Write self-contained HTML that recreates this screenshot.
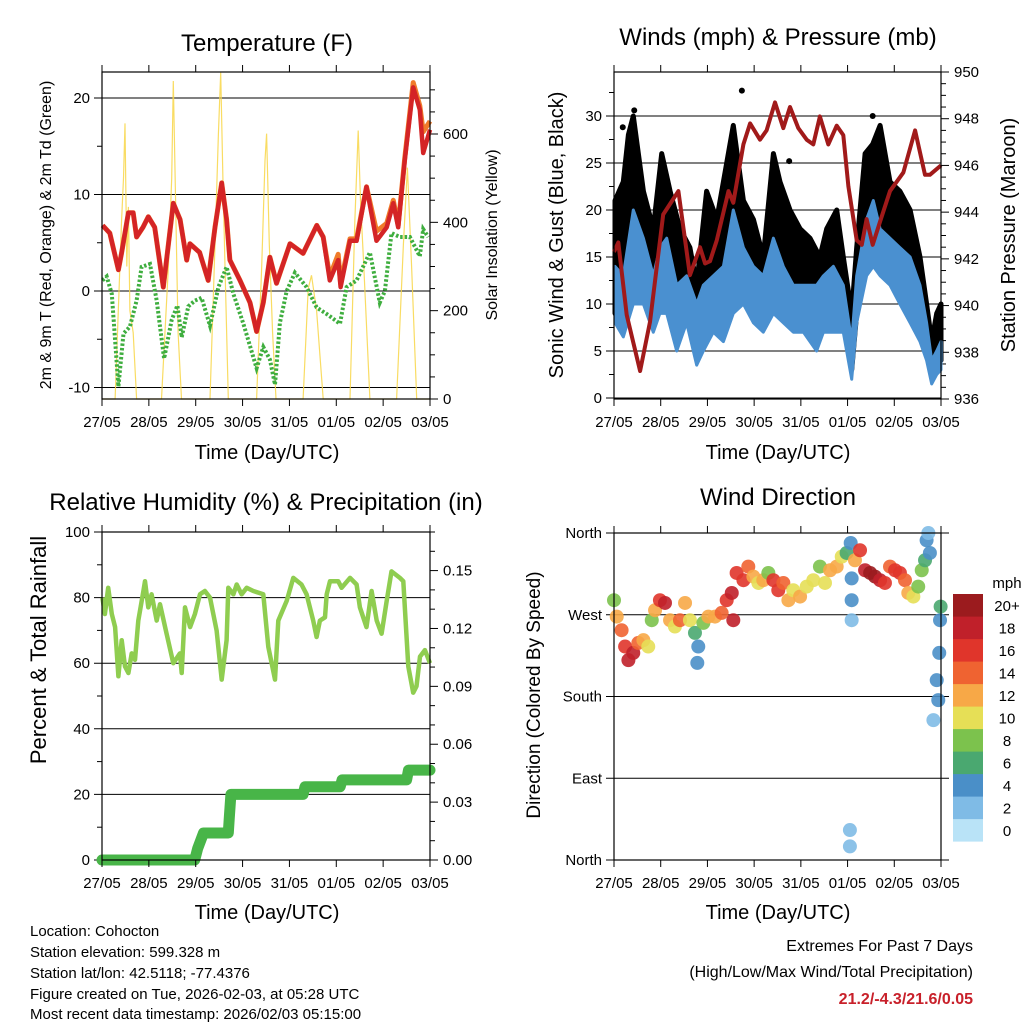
<!DOCTYPE html>
<html><head><meta charset="utf-8"><style>
html,body{margin:0;padding:0;background:#fff}
svg{display:block;font-family:"Liberation Sans",sans-serif}
</style></head><body>
<svg id="s" width="1024" height="1024" viewBox="0 0 1024 1024" xmlns="http://www.w3.org/2000/svg">
<g font-size="24" text-anchor="middle" fill="#000">
<text x="267" y="51">Temperature (F)</text>
<text x="778" y="45">Winds (mph) &amp; Pressure (mb)</text>
<text x="266" y="510">Relative Humidity (%) &amp; Precipitation (in)</text>
<text x="778" y="505">Wind Direction</text>
</g>
<g font-size="20" text-anchor="middle">
<text x="267" y="459">Time (Day/UTC)</text>
<text x="778" y="459">Time (Day/UTC)</text>
<text x="267" y="919">Time (Day/UTC)</text>
<text x="778" y="919">Time (Day/UTC)</text>
<text transform="translate(51,235) rotate(-90)" font-size="16">2m &amp; 9m T (Red, Orange) &amp; 2m Td (Green)</text>
<text transform="translate(497,235) rotate(-90)" font-size="16">Solar Insolation (Yellow)</text>
<text transform="translate(563,235) rotate(-90)">Sonic Wind &amp; Gust (Blue, Black)</text>
<text transform="translate(1015,235) rotate(-90)">Station Pressure (Maroon)</text>
<text transform="translate(46,650) rotate(-90)" font-size="22">Percent &amp; Total Rainfall</text>
<text transform="translate(540,695) rotate(-90)" font-size="19">Direction (Colored By Speed)</text>
</g>
<g font-size="15">
<text x="30" y="936">Location: Cohocton</text>
<text x="30" y="957">Station elevation: 599.328 m</text>
<text x="30" y="978">Station lat/lon: 42.5118; -77.4376</text>
<text x="30" y="999">Figure created on Tue, 2026-02-03, at 05:28 UTC</text>
<text x="30" y="1019">Most recent data timestamp: 2026/02/03 05:15:00</text>
</g>
<g font-size="16" text-anchor="end">
<text x="973" y="951">Extremes For Past 7 Days</text>
<text x="973" y="977">(High/Low/Max Wind/Total Precipitation)</text>
<text x="973" y="1004" fill="#c8202a" font-weight="bold">21.2/-4.3/21.6/0.05</text>
</g>
</svg>
<script>
// ---------- data ----------
const dayLabels = ["27/05","28/05","29/05","30/05","31/05","01/05","02/05","03/05"];
const tempHours = [0.3,4,8.4,10,13.5,16,17.7,21,23.7,27,31.4,36.5,40,43.4,45,50,54.4,57.9,61.3,63.8,65.5,70.7,75.8,79.2,82.6,86,89.4,96.3,103,110,113.3,116.7,121,122.2,127,130.4,135.5,140.6,145.8,149.2,151.7,155.1,159.4,162.8,164.5,168];
const tempRed = [6.8,6.0,2.2,3.9,8.1,8.1,5.6,6.6,7.7,6.6,0.4,9.1,7.4,3.2,4.9,4.0,1.1,6.6,11.2,7.4,3.2,1.1,-1.2,-4.2,-1.2,3.5,0.8,4.9,3.9,6.8,5.6,1.1,3.2,0.4,5.2,5.2,10.8,5.2,6.6,9.1,6.6,13.6,21.1,18.8,14.3,16.7];
const tempOrange = [6.8,6.0,2.2,3.9,8.1,8.1,5.6,6.6,7.7,6.6,0.4,9.1,7.4,3.2,4.9,4.0,1.1,6.6,11.2,7.4,3.2,1.1,-1.2,-4.2,-1.2,3.5,0.8,4.9,3.9,6.8,5.6,1.5,3.8,0.8,5.4,5.4,10.8,6.2,7.0,9.4,6.8,13.8,21.6,19.2,16.5,17.6];
const dewHours = [0.2,2.4,5.0,6.7,8.4,11.0,14.3,17.7,20.3,24.6,28.0,31.8,35.7,38.6,40.8,44.2,47.6,51.0,55.3,59.6,63.8,67.3,72.4,79.2,82.6,86.0,88.6,91.1,94.6,98.8,104.8,109.9,115.9,121.9,125.3,130.4,137.2,142.3,144.9,148.3,152.6,157.7,162.8,164.5,167.1];
const dewVals = [1.1,1.5,-0.3,-5.1,-9.9,-4.4,-3.7,-1.0,2.5,2.8,-1.0,-7.0,-3.0,-1.5,-4.8,-1.6,-1.0,-0.7,-3.6,0.4,2.5,-0.3,-3.4,-8.0,-5.8,-7.1,-9.7,-3.3,0.0,1.9,0.4,-1.7,-2.5,-3.4,0.4,1.1,4.0,-1.2,0.0,6.0,5.6,5.6,3.6,6.4,5.6];
const solarHours = [0,6.7,10,11,11.8,12.7,13.5,14.3,16,17.7,30.5,34,35.7,36.5,37.9,39,40.7,55.3,57.9,59.6,60.8,61.9,63,64.7,79.2,81.8,83.5,84.3,85.7,87.4,89.1,103,105.6,107.3,109.9,113.3,127,129.5,131.2,132.4,134.1,137.2,150.9,154.4,156.4,158.6,161.2,168];
const solarVals = [0,0,400,500,624,300,435,200,150,0,0,300,500,720,400,150,0,0,350,600,739,500,300,0,0,300,540,601,350,150,0,0,250,280,200,0,0,400,608,450,300,0,0,350,524,300,0,0];
const windHours = [0.5,4.8,9.9,15.1,20.2,23.6,27.1,32.2,37.3,42.5,45.9,51.0,56.2,61.3,66.5,71.6,76.7,81.9,87.0,92.1,97.3,104.1,107.6,112.7,117.8,122.1,124.7,129.8,133.2,136.7,141.8,146.9,152.1,157.2,160.6,163.2,165.8,168];
const windLo = [8,6.5,10,10,7,9,9,5,8,3.5,5,7,6,9,10,8,7,9,8,7,7,5,7,7,7,2,8,13,14,13,12,10,8,6,4,1.5,2.5,3];
const windHi = [14,13,20,17,13,16,17,12,13,10,12,13,14,20,16,14,13,17,14,12,12,12,13,14,12,6,13,19,21,18,17,16,15,12,8,4,5,6];
const gustHours = [0.5,4.8,7.4,9.9,15.1,20.2,24.5,28.8,33.9,39.0,42.5,47.6,52.8,57.9,61.3,66.5,71.6,76.7,81.9,85.3,90.4,95.6,100.7,105.8,109.3,114.4,117.8,122.1,124.7,129.0,132.9,136.7,141.8,146.9,152.1,157.2,160.6,163.2,165.8,168];
const gustHi = [21,23,28,30,22,18,26,22,18,16,12,22,19,25,29,21,19,15,26,23,20,18,17,15,18,20,15,9,16,26,27,29,23,22,20,15,10,6,9,10];
const gustOutHours = [65.7,10.4,132.9,4.5,90.0];
const gustOutVals = [32.7,30.6,30,28.8,25.2];
const presHours = [0,2.2,6.5,13.4,18.5,25.3,33.1,39,44.2,46.8,49.3,52.8,58.8,61.3,66.5,69.9,75,78.4,82.7,87,90.4,94.7,99,102.4,105.8,110.1,114.4,117.8,120.4,124.7,127.3,129.8,132.9,136.7,141.8,148.7,154.7,159.8,162.3,168];
const presVals = [942.3,942.7,939.6,937.2,939.3,943.9,944.9,941.3,942.5,941.8,941.9,942.8,944.9,944.4,946.9,947.8,947.1,947.5,948.7,947.6,948.5,947.6,947.1,946.9,948.1,946.9,947.7,947.3,945.1,942.8,942.6,943.7,942.6,943.6,944.9,945.7,947.5,945.6,945.6,946.0];
const rhHours = [0.2,1.5,3.2,5.0,6.7,8.4,10.1,11.8,13.5,15.2,16.9,18.6,21.2,22.0,23.7,25.4,28.0,29.7,33.1,36.5,39.9,40.8,42.5,45.1,47.6,50.2,52.7,55.3,58.7,61.3,63.8,64.7,67.3,69.0,71.5,74.1,77.5,82.6,85.2,88.6,90.3,94.6,98.0,102.2,104.8,108.2,109.9,111.6,114.2,115.1,116.8,121.0,122.7,127.0,130.4,132.1,135.5,138.1,140.7,143.2,145.8,148.3,152.6,154.3,156.9,159.4,161.1,162.9,165.4,168.0];
const rhVals = [80,75,83,75,71,56,67,59,57,63,61,73,82,85,77,81,73,78,69,60,63,57,77,71,75,81,82,80,70,55,67,83,81,84,81,83,82,81,65,55,73,79,86,84,81,73,68,73,74,81,85,85,83,86,84,77,71,82,73,69,79,88,86,85,59,51,53,62,64,60];
const rainHours = [0,47.5,49,52,64.7,65.2,66,103,104,122,123,156,157,168];
const rainVals = [0,0,0.006,0.014,0.014,0.022,0.034,0.034,0.038,0.038,0.0415,0.0415,0.0466,0.0466];
const dirHours = [0,1.4,3.9,5.7,7.4,9.9,12.5,15.1,17.6,19.4,21.1,23.6,26.2,28.8,31.3,33.9,36.5,39.0,41.6,43.3,42.8,45.9,48.5,51.9,55.3,57.9,60.5,61.3,63.0,66.5,69.0,71.6,74.2,76.7,79.3,81.9,84.4,87.0,89.6,92.1,95.6,99.0,102.4,105.8,108.4,111.0,114.4,117.0,119.5,121.6,122.1,122.1,122.1,123.8,126.4,129.0,131.6,134.1,136.7,139.2,141.8,144.4,146.9,149.5,151.2,153.8,156.3,158.1,159.8,160.6,161.5,162.3,164.1,165.8,166.6,167.1,167.5,167.8,121.2,121.2];
const dirDeg = [286,268,253,235,220,228,239,242,235,264,275,286,283,264,257,264,283,264,250,235,217,261,268,268,272,286,294,264,316,308,323,312,305,308,316,308,297,305,286,297,290,301,308,323,305,319,323,334,338,349,310,286,264,330,341,319,316,312,308,305,323,319,316,308,294,290,301,319,330,352,360,338,154,198,176,228,264,279,33,15];
const dirSpeed = [8,12,14,16,18,18,14,12,10,8,12,16,18,12,10,14,12,10,6,4,4,8,12,12,14,16,18,18,16,16,14,12,10,12,8,16,16,14,12,10,12,10,10,8,10,12,12,10,6,4,4,4,2,12,16,18,20,20,18,16,14,16,16,14,12,10,8,8,6,4,2,4,2,4,4,4,4,6,2,2];
const speedColors = ["#b9e3f7","#7fbbe6","#4a8fc8","#4aa870","#7cc24d","#e6df56","#f7a847","#ef6331","#e0352b","#c0202a","#9b1b1e"];
const speedLabels = ["0","2","4","6","8","10","12","14","16","18","20+"];

// ---------- helpers ----------
const S = document.getElementById('s');
const NS = 'http://www.w3.org/2000/svg';
function mk(tag, attrs, parent){
  const e = document.createElementNS(NS, tag);
  for (const k in attrs) e.setAttribute(k, attrs[k]);
  (parent||S).appendChild(e);
  return e;
}
function lin(d0,d1,r0,r1){ return v => r0 + (v-d0)/(d1-d0)*(r1-r0); }
function pathFrom(xs, ys, fx, fy){
  let d='';
  for (let i=0;i<xs.length;i++) d += (i?'L':'M') + fx(xs[i]).toFixed(1) + ' ' + fy(ys[i]).toFixed(1);
  return d;
}
function hline(x1,x2,y,col,w,name){
  const e = mk('line',{x1:x1,x2:x2,y1:y,y2:y,stroke:col,'stroke-width':w});
  
  
}
function vline(x,y1,y2,name){
  const e = mk('line',{x1:x,x2:x,y1:y1,y2:y2,stroke:'#000','stroke-width':1});
  
  
}
function label(x,y,txt,anchor,name,size){
  const e = mk('text',{x:x,y:y,'text-anchor':anchor,'font-size':size||15});
  e.textContent = txt;
  
  
}
function frame(P, name){
  const e = mk('rect',{x:P.x0,y:P.y0,width:P.x1-P.x0,height:P.y1-P.y0,fill:'none',stroke:'#000','stroke-width':1.2});
  
  
}
function xAxis(P, fx, pre){
  for (let d=0; d<dayLabels.length; d++){
    const x = fx(d*24);
    vline(x, P.y1, P.y1+7, pre+'-x-tick');
    vline(x, P.y0-7, P.y0, pre+'-top-tick');
    label(x, P.y1+28, dayLabels[d], 'middle', pre+'-x-tick-label');
  }
}
function leftTicks(P, fy, majors, minors, labels, pre, gridFull){
  majors.forEach((v,i)=>{
    const y = fy(v);
    hline(P.x0-8, gridFull?P.x1+8:P.x1, y, '#000', 1, pre+'-gridline');
    label(P.x0-12, y+5, labels[i], 'end', pre+'-y-tick-label');
  });
  minors.forEach(v=>{ hline(P.x0-5, P.x0, fy(v), '#000', 1, pre+'-minor-tick'); });
}
function rightTicks(P, fy, majors, minors, labels, pre){
  majors.forEach((v,i)=>{
    const y = fy(v);
    hline(P.x1, P.x1+8, y, '#000', 1, pre+'-right-tick');
    label(P.x1+13, y+5, labels[i], 'start', pre+'-right-tick-label');
  });
  minors.forEach(v=>{ hline(P.x1, P.x1+5, fy(v), '#000', 1, pre+'-right-minor-tick'); });
}
function range(a,b,s){ const r=[]; for(let v=a; v<=b+1e-9; v+=s) r.push(+v.toFixed(4)); return r; }

// ---------- Panel 1: temperature ----------
const P1 = {x0:102,x1:430,y0:72,y1:399};
const x1f = lin(0,168,P1.x0,P1.x1);
const yT = lin(0,10,291,194.5);
const ySol = lin(0,600,399,134);
leftTicks(P1, yT, [-10,0,10,20], [-5,5,15], ["-10","0","10","20"], 'temp', false);
rightTicks(P1, ySol, [0,200,400,600], range(50,700,50).filter(v=>v%200), ["0","200","400","600"], 'solar');
let e;
e = mk('path',{d:pathFrom(solarHours,solarVals,x1f,ySol),fill:'none',stroke:'#f8d648','stroke-width':1.2,'stroke-opacity':0.85});


e = mk('path',{d:pathFrom(dewHours,dewVals,x1f,yT),fill:'none',stroke:'#3fae3f','stroke-width':4,'stroke-dasharray':'2.5 2'});


e = mk('path',{d:pathFrom(tempHours,tempOrange,x1f,yT),fill:'none',stroke:'#f07b2a','stroke-width':5,'stroke-linejoin':'round'});


e = mk('path',{d:pathFrom(tempHours,tempRed,x1f,yT),fill:'none',stroke:'#d42426','stroke-width':4.5,'stroke-linejoin':'round'});


frame(P1,'temp-plot-frame');
xAxis(P1, x1f, 'temp');

// ---------- Panel 2: winds & pressure ----------
const P2 = {x0:614,x1:941,y0:72,y1:399};
const x2f = lin(0,168,P2.x0,P2.x1);
const yW = lin(0,10,398,304);
const yP = lin(936,950,399,72);
leftTicks(P2, yW, [0,5,10,15,20,25,30], [2.5,7.5,12.5,17.5,22.5,27.5,32.5], ["0","5","10","15","20","25","30"], 'wind', false);
rightTicks(P2, yP, [936,938,940,942,944,946,948,950], range(936.5,949.5,0.5).filter(v=>v%2), ["936","938","940","942","944","946","948","950"], 'pressure');
let gd = pathFrom(gustHours,gustHi,x2f,yW);
for (let i=windHours.length-1;i>=0;i--) gd += 'L'+x2f(windHours[i]).toFixed(1)+' '+yW(windLo[i]+1).toFixed(1);
e = mk('path',{d:gd+'Z',fill:'#000',stroke:'#000','stroke-width':5,'stroke-linejoin':'round'});


for (let i=0;i<gustOutHours.length;i++){
  const c = mk('circle',{cx:x2f(gustOutHours[i]),cy:yW(gustOutVals[i]),r:3,fill:'#000'});
  
  
}
let wd = pathFrom(windHours,windHi,x2f,yW);
for (let i=windHours.length-1;i>=0;i--) wd += 'L'+x2f(windHours[i]).toFixed(1)+' '+yW(windLo[i]).toFixed(1);
e = mk('path',{d:wd+'Z',fill:'#4a90d0',stroke:'#4a90d0','stroke-width':3,'stroke-linejoin':'round'});


e = mk('path',{d:pathFrom(presHours,presVals,x2f,yP),fill:'none',stroke:'#a11a1a','stroke-width':4,'stroke-linejoin':'round'});


frame(P2,'wind-plot-frame');
xAxis(P2, x2f, 'wind');

// ---------- Panel 3: RH & precip ----------
const P3 = {x0:102,x1:430,y0:532,y1:860};
const x3f = lin(0,168,P3.x0,P3.x1);
const yRH = lin(0,100,860,532);
const yRain = lin(0,0.17,860,532);
leftTicks(P3, yRH, [0,20,40,60,80,100], [10,30,50,70,90], ["0","20","40","60","80","100"], 'rh', false);
rightTicks(P3, yRain, [0,0.03,0.06,0.09,0.12,0.15], range(0.01,0.17,0.01).filter(v=>Math.round(v*100)%3), ["0.00","0.03","0.06","0.09","0.12","0.15"], 'rain');
e = mk('path',{d:pathFrom(rhHours,rhVals,x3f,yRH),fill:'none',stroke:'#8fcd50','stroke-width':4.5,'stroke-linejoin':'round'});


e = mk('path',{d:pathFrom(rainHours,rainVals,x3f,yRain),fill:'none',stroke:'#48b548','stroke-width':11,'stroke-linejoin':'round','stroke-linecap':'round'});


frame(P3,'rh-plot-frame');
xAxis(P3, x3f, 'rh');

// ---------- Panel 4: wind direction ----------
const P4 = {x0:614,x1:941,y0:533,y1:860};
const x4f = lin(0,168,P4.x0,P4.x1);
const yD = lin(0,360,860,533);
leftTicks(P4, yD, [0,90,180,270,360], [], ["North","East","South","West","North"], 'dir', true);
for (let i=0;i<dirHours.length;i++){
  const c = mk('circle',{cx:x4f(dirHours[i]),cy:yD(dirDeg[i]),r:7,fill:speedColors[Math.min(10,Math.floor(dirSpeed[i]/2))],'fill-opacity':0.9});
  
  
}
frame(P4,'dir-plot-frame');
xAxis(P4, x4f, 'dir');
label(1007, 588, 'mph', 'middle', 'colorbar-title', 15);
for (let i=0;i<speedColors.length;i++){
  const top = 594 + (10-i)*22.5;
  const r = mk('rect',{x:953,y:top,width:30,height:22.6,fill:speedColors[i]});
  
  
  label(1007, top+17, speedLabels[i], 'middle', 'colorbar-label', 15);
}
</script>
</body></html>
